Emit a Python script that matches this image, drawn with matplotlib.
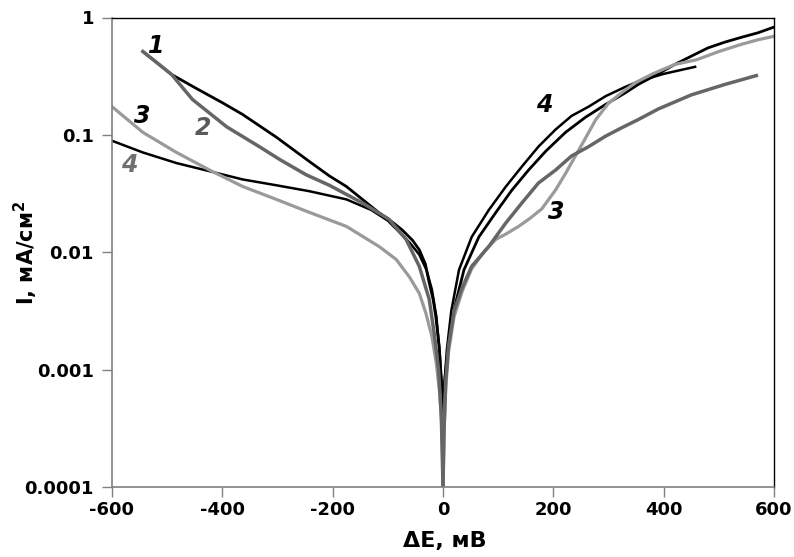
import matplotlib
matplotlib.use("Agg")
import matplotlib.pyplot as plt
from matplotlib.ticker import FixedLocator, NullLocator

# ---- data (ΔE, mV ; I, mA/cm2) ----
e1_cat = [-544, -520, -492, -450, -400, -363, -302, -242, -206, -175, -146, -116, -90, -74, -55, -43, -32, -25, -18, -13, -7, -3, -1]
i1_cat = [0.513, 0.417, 0.327, 0.253, 0.188, 0.149, 0.0955, 0.0592, 0.0447, 0.0363, 0.0282, 0.0217, 0.0178, 0.0155, 0.0126, 0.0105, 0.00794, 0.0055, 0.00398, 0.00282, 0.00158, 0.000794, 0.000398]
e1_an = [1, 3, 7, 14, 22, 38, 65, 96, 125, 155, 186, 222, 258, 295, 331, 354, 390, 420, 450, 480, 511, 540, 571, 598]
i1_an = [0.000398, 0.000794, 0.00126, 0.002, 0.00355, 0.00708, 0.0135, 0.0219, 0.0339, 0.0501, 0.0724, 0.105, 0.141, 0.182, 0.229, 0.269, 0.331, 0.398, 0.468, 0.55, 0.617, 0.676, 0.741, 0.822]

e2_cat = [-544, -520, -492, -454, -392, -333, -296, -248, -206, -146, -98, -67, -43, -25, -16, -8, -3, -1, 0]
i2_cat = [0.513, 0.417, 0.327, 0.200, 0.117, 0.0794, 0.0617, 0.0457, 0.0372, 0.0263, 0.0191, 0.0129, 0.00759, 0.00398, 0.00204, 0.001, 0.000398, 0.000158, 0.0001]
e2_an = [0, 2, 5, 10, 20, 35, 52, 83, 114, 143, 173, 204, 233, 264, 295, 324, 354, 390, 450, 511, 568]
i2_an = [0.0001, 0.000316, 0.000794, 0.00158, 0.00316, 0.00501, 0.00759, 0.0112, 0.0178, 0.0263, 0.0389, 0.0501, 0.0661, 0.0794, 0.0977, 0.115, 0.135, 0.166, 0.219, 0.269, 0.32]

e3_cat = [-600, -544, -483, -423, -363, -302, -248, -175, -116, -85, -61, -43, -31, -20, -12, -6, -2, -0.5, 0]
i3_cat = [0.174, 0.105, 0.0708, 0.0501, 0.0363, 0.0282, 0.0224, 0.0166, 0.0112, 0.0087, 0.00617, 0.00447, 0.00302, 0.00191, 0.00112, 0.000631, 0.000316, 0.000158, 0.0001]
e3_an = [0, 2, 5, 10, 20, 35, 52, 75, 96, 114, 137, 158, 179, 204, 222, 240, 258, 277, 300, 324, 349, 380, 420, 460, 500, 540, 571, 600]
i3_an = [0.0001, 0.000316, 0.000708, 0.00141, 0.00282, 0.00468, 0.00724, 0.0102, 0.0129, 0.0143, 0.0166, 0.0195, 0.0234, 0.0339, 0.0468, 0.0661, 0.0933, 0.135, 0.186, 0.229, 0.279, 0.331, 0.398, 0.437, 0.513, 0.589, 0.646, 0.692]

e4_cat = [-600, -544, -483, -423, -363, -302, -242, -175, -130, -100, -85, -60, -43, -30, -20, -12, -6, -2, -0.5]
i4_cat = [0.0891, 0.0708, 0.0575, 0.049, 0.0417, 0.0372, 0.0331, 0.0282, 0.0229, 0.0186, 0.0158, 0.012, 0.00955, 0.00708, 0.00479, 0.00282, 0.00141, 0.000708, 0.000398]
e4_an = [1, 3, 7, 15, 29, 52, 83, 114, 143, 173, 204, 233, 264, 295, 331, 354, 400, 457]
i4_an = [0.000398, 0.000794, 0.00148, 0.00316, 0.00708, 0.0135, 0.0229, 0.0363, 0.0537, 0.0794, 0.111, 0.145, 0.174, 0.214, 0.257, 0.285, 0.331, 0.38]

x_ticks = [-600, -400, -200, 0, 200, 400, 600]
y_ticks = [0.0001, 0.001, 0.01, 0.1, 1]
y_tick_labels = ["0.0001", "0.001", "0.01", "0.1", "1"]

plt.rcParams['font.family'] = ['DejaVu Sans']

W, H = 794, 557
fig = plt.figure(figsize=(W / 100, H / 100), dpi=100)
ax = fig.add_axes([112 / W, 1 - 487 / H, (774 - 112) / W, (487 - 17.5) / H])

c_black = '#000000'
c_dgray = '#666666'
c_lgray = '#9a9a9a'

ax.plot(e1_cat, i1_cat, color=c_black, lw=2.0)
ax.plot(e1_an, i1_an, color=c_black, lw=2.0)
ax.plot(e4_cat, i4_cat, color=c_black, lw=1.8)
ax.plot(e4_an, i4_an, color=c_black, lw=1.8)
ax.plot(e3_cat, i3_cat, color=c_lgray, lw=2.3)
ax.plot(e3_an, i3_an, color=c_lgray, lw=2.3)
ax.plot(e2_cat, i2_cat, color=c_dgray, lw=2.5)
ax.plot(e2_an, i2_an, color=c_dgray, lw=2.5)

ax.set_yscale('log')
ax.set_xlim(-600, 600)
ax.set_ylim(0.0001, 1)
ax.xaxis.set_major_locator(FixedLocator(x_ticks))
ax.set_xticklabels([str(v) for v in x_ticks])
ax.yaxis.set_major_locator(FixedLocator(y_ticks))
ax.yaxis.set_minor_locator(NullLocator())
ax.set_yticklabels(y_tick_labels)

for lab in ax.get_xticklabels() + ax.get_yticklabels():
    lab.set_fontweight('bold')
    lab.set_fontsize(13)
ax.tick_params(axis='both', direction='out', length=7, width=1, color='#808080')
ax.tick_params(axis='x', pad=3)
ax.tick_params(axis='y', pad=6)

for s in ['left', 'bottom']:
    ax.spines[s].set_color('#808080')
    ax.spines[s].set_linewidth(1.2)
for s in ['top', 'right']:
    ax.spines[s].set_color('#000000')
    ax.spines[s].set_linewidth(1.0)

fig.text(445 / W, 1 - 541 / H, 'ΔE, мВ', fontsize=16, fontweight='bold',
         ha='center', va='center')
fig.text(26 / W, 1 - 253 / H, 'I, мА/см$^\\mathbf{2}$', fontsize=15, fontweight='bold',
         ha='center', va='center', rotation=90)

lbl = dict(fontsize=17, fontweight='bold', fontstyle='italic', ha='center', va='center')
ax.text(-520, 0.57, '1', color='#000000', **lbl)
ax.text(-435, 0.115, '2', color='#5a5a5a', **lbl)
ax.text(-545, 0.145, '3', color='#000000', **lbl)
ax.text(-568, 0.055, '4', color='#707070', **lbl)
ax.text(184, 0.18, '4', color='#000000', **lbl)
ax.text(205, 0.022, '3', color='#000000', **lbl)

fig.savefig('out.png', dpi=100)
